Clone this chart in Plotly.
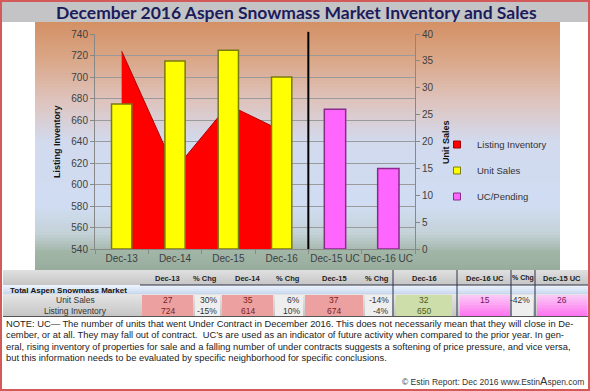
import plotly.graph_objects as go

# ---------------- data ----------------
categories = ["Dec-13", "Dec-14", "Dec-15", "Dec-16", "Dec-15 UC", "Dec-16 UC"]
sales_categories = ["Dec-13", "Dec-14", "Dec-15", "Dec-16"]
uc_categories = ["Dec-15 UC", "Dec-16 UC"]
listing_inventory = [724, 614, 674, 650]
unit_sales = [27, 35, 37, 32]
uc_pending = [26, 15]
sales_pct_chg = ["30%", "6%", "-14%"]
inventory_pct_chg = ["-15%", "10%", "-4%"]
uc_pct_chg = "-42%"
table_headers = ["Dec-13", "% Chg", "Dec-14", "% Chg", "Dec-15", "% Chg", "Dec-16",
                 "Dec-16 UC", "% Chg", "Dec-15 UC"]
left_ticks = list(range(540, 741, 20))
right_ticks = list(range(0, 41, 5))

W, H = 590, 391
L, R, T, B = 95, 415, 34, 249


def px(x):
    return (x - L) / (R - L)


def py(y):
    return (B - y) / (B - T)


shapes = []
annotations = []


def rect(x0, y0, x1, y1, fill, layer="above", line=None, lw=0):
    shapes.append(dict(type="rect", xref="paper", yref="paper",
                       x0=px(x0), x1=px(x1), y0=py(y1), y1=py(y0),
                       fillcolor=fill, layer=layer,
                       line=dict(width=lw, color=line or "rgba(0,0,0,0)")))


def hline(x0, x1, y, color, w=1, layer="above"):
    shapes.append(dict(type="line", xref="paper", yref="paper", x0=px(x0), x1=px(x1),
                       y0=py(y), y1=py(y), line=dict(color=color, width=w), layer=layer))


def vline(x, y0, y1, color, w=1, layer="above"):
    shapes.append(dict(type="line", xref="paper", yref="paper", x0=px(x), x1=px(x),
                       y0=py(y0), y1=py(y1), line=dict(color=color, width=w), layer=layer))


def text(x, y, s, size=9, color="#333333", bold=False, xanchor="center",
         family="Liberation Sans", angle=0):
    annotations.append(dict(xref="paper", yref="paper", x=px(x), y=py(y),
                            text=("<b>%s</b>" % s) if bold else s, showarrow=False,
                            xanchor=xanchor, yanchor="middle", textangle=angle,
                            font=dict(size=size, color=color, family=family)))


def lerp(c1, c2, t):
    return tuple(int(round(a + (b - a) * t)) for a, b in zip(c1, c2))


def gradient(x0, x1, stops, n_per=1, layer="below"):
    for (ya, ca), (yb, cb) in zip(stops[:-1], stops[1:]):
        y = ya
        while y < yb:
            t = (y - ya) / max(yb - ya, 1)
            c = lerp(ca, cb, t)
            rect(x0, y, x1, min(y + n_per + 0.6, yb + 0.3), "rgb(%d,%d,%d)" % c, layer=layer)
            y += n_per


# ---------------- background panel ----------------
rect(2, 1, 588, 22, "rgb(196,196,198)", layer="below")
gradient(35, 560, [
    (22, (212, 145, 102)),
    (60, (218, 168, 138)),
    (100, (222, 196, 190)),
    (140, (210, 218, 238)),
    (205, (208, 220, 242)),
    (232, (196, 210, 216)),
    (250, (162, 182, 168)),
    (270, (152, 172, 158)),
], n_per=3)

# title
text(296, 12, "December 2016 Aspen Snowmass Market Inventory and Sales", size=17.5,
     color="#1c1c5c", bold=True, family="Lato")

# axis titles
text(57, 142, "Listing Inventory", size=9, color="#111111", bold=True, angle=-90)
text(446, 142, "Unit Sales", size=9, color="#111111", bold=True, angle=-90)

# ---------------- table ----------------
TX0, TX1 = 3, 588
gradient(TX0, TX1, [(270, (222, 222, 222)), (285, (196, 196, 196))], n_per=2, layer="above")
gradient(TX0, TX1, [(285, (235, 242, 252)), (294, (196, 212, 236))], n_per=2, layer="above")
gradient(TX0, TX1, [(294, (228, 228, 228)), (316, (196, 196, 196))], n_per=2, layer="above")

cell_x = [(142, 193), (195, 220), (222, 273), (275, 303), (305, 363), (365, 392),
          (396, 452), (460, 510), (512, 533), (537, 587)]
cell_fill = ["rgb(236,160,160)", "rgb(238,238,238)", "rgb(236,160,160)", "rgb(238,238,238)",
             "rgb(236,160,160)", "rgb(238,238,238)", "rgb(206,222,170)", None,
             "rgb(238,238,238)", None]
for (x0, x1), f in zip(cell_x, cell_fill):
    if f:
        rect(x0, 295, x1, 316, f)
    else:
        gradient(x0, x1, [(295, (250, 200, 246)), (316, (255, 110, 240))], n_per=2, layer="above")

hline(140, 588, 285, "#333344", 1)
for xv in [393, 457, 511, 535]:
    vline(xv, 270, 316, "#2a3350", 1)
hline(TX0, TX1, 316.5, "#555555", 1)

for i, ((x0, x1), h) in enumerate(zip(cell_x, table_headers)):
    if i == 8:
        text((x0 + x1) / 2, 278, h, size=7, color="#222222", bold=True)
    elif "%" in h:
        text(x1 - 1, 278, h, size=7.5, color="#222222", bold=True, xanchor="right")
    else:
        text((x0 + x1) / 2, 278, h, size=7.5, color="#222222", bold=True)

text(8, 290, "Total Aspen Snowmass Market", size=8, color="#111111", bold=True, xanchor="left")
text(75, 300, "Unit Sales", size=8.5, color="#333333")
text(75, 311, "Listing Inventory", size=8.5, color="#333333")

val_color = "#7a2020"
sales_cells = [unit_sales[0], sales_pct_chg[0], unit_sales[1], sales_pct_chg[1], unit_sales[2],
               sales_pct_chg[2], unit_sales[3], uc_pending[1], uc_pct_chg, uc_pending[0]]
inv_cells = [listing_inventory[0], inventory_pct_chg[0], listing_inventory[1], inventory_pct_chg[1],
             listing_inventory[2], inventory_pct_chg[2], listing_inventory[3]]
for row_y, cells in ((300, sales_cells), (311, inv_cells)):
    for i, v in enumerate(cells):
        x0, x1 = cell_x[i]
        s = str(v)
        if "%" in s:
            text(x1 - 1, row_y, s, size=8.5, color="#333333", xanchor="right")
        else:
            col = "#4a5a20" if i == 6 else ("#7a1060" if i in (7, 9) else val_color)
            text((x0 + x1) / 2, row_y, s, size=8.5, color=col)

# ---------------- note ----------------
note_lines = [
    "NOTE: UC\u2014 The number of units that went Under Contract in December 2016. This does not necessarily mean that they will close in De-",
    "cember, or at all. They may fall out of contract.  UC\u2019s are used as an indicator of future activity when compared to the prior year. In gen-",
    "eral, rising inventory of properties for sale and a falling number of under contracts suggests a softening of price pressure, and vice versa,",
    "but this information needs to be evaluated by specific neighborhood for specific conclusions.",
]
for i, ln in enumerate(note_lines):
    text(4, 324 + i * 11.3, ln, size=9.35, color="#222222", xanchor="left")
text(586, 381, "\u00a9 Estin Report: Dec 2016 www.Estin<span style='font-size:11px'>A</span>spen.com",
     size=8.5, color="#333333", xanchor="right")

# outer border
shapes.append(dict(type="rect", xref="paper", yref="paper", x0=px(1), x1=px(589),
                   y0=py(390), y1=py(1), line=dict(color="#d45a5a", width=2),
                   fillcolor="rgba(0,0,0,0)", layer="above"))

# separator between sales and UC categories
shapes.append(dict(type="line", xref="x", yref="paper", x0=3.5, x1=3.5, y0=0, y1=1.01,
                   line=dict(color="black", width=2), layer="above"))

# ---------------- traces ----------------
fig = go.Figure()
fig.add_trace(go.Scatter(
    x=sales_categories, y=listing_inventory, name="Listing Inventory",
    mode="lines", fill="tozeroy", fillcolor="#ff0000",
    line=dict(color="#b00000", width=1), yaxis="y", showlegend=False))
fig.add_trace(go.Bar(
    x=sales_categories, y=unit_sales, name="Unit Sales", yaxis="y2", width=0.38,
    marker=dict(color="#ffff00", line=dict(color="#7a7a10", width=1.5)), showlegend=False))
fig.add_trace(go.Bar(
    x=uc_categories, y=uc_pending, name="UC/Pending", yaxis="y2", width=0.4,
    marker=dict(color="#ff66ff", line=dict(color="#8a2a8a", width=1.5)), showlegend=False))

# compact legend entries (small square keys like the original)
legend_keys = [("Listing Inventory", "#ff0000", "#a00000"),
               ("Unit Sales", "#ffff00", "#7a7a10"),
               ("UC/Pending", "#ff66ff", "#8a2a8a")]
for i, (nm, c, lc) in enumerate(legend_keys):
    fig.add_trace(go.Scatter(
        x=[None], y=[None], name=nm, mode="markers", yaxis="y2",
        marker=dict(symbol="square", size=7, color=c, line=dict(color=lc, width=1)),
        legendgroup=str(i), showlegend=True))

fig.update_layout(
    width=W, height=H,
    margin=dict(l=L, r=W - R, t=T, b=H - B, pad=0, autoexpand=False),
    paper_bgcolor="white", plot_bgcolor="rgba(0,0,0,0)",
    barmode="overlay",
    showlegend=True,
    legend=dict(x=px(437), y=py(130), xanchor="left", yanchor="top",
                bgcolor="rgba(0,0,0,0)", font=dict(size=9.5, color="#333333", family="Liberation Sans"),
                tracegroupgap=7, itemwidth=30),
    xaxis=dict(type="category", categoryorder="array", categoryarray=categories,
               range=[-0.5, 5.5], tickson="boundaries", ticks="outside", ticklen=4,
               tickangle=0, automargin=False,
               tickcolor="#888888", showline=True, linecolor="#888888", showgrid=False,
               tickfont=dict(size=10, color="#404040", family="Liberation Sans")),
    yaxis=dict(range=[540, 740], tickvals=left_ticks, ticks="outside", ticklen=4,
               automargin=False,
               tickcolor="#888888", showline=True, linecolor="#888888",
               showgrid=True, gridcolor="#9a9a9a", gridwidth=1, zeroline=False,
               tickfont=dict(size=10, color="#404040", family="Liberation Sans")),
    yaxis2=dict(range=[0, 40], tickvals=right_ticks, overlaying="y", side="right",
                ticks="outside", ticklen=4, tickcolor="#888888", showline=True,
                automargin=False,
                linecolor="#888888", showgrid=False, zeroline=False,
                tickfont=dict(size=10, color="#404040", family="Liberation Sans")),
    shapes=shapes, annotations=annotations,
)

fig.write_html("out.html", config={"displayModeBar": False},
               post_script="document.body.style.margin='0';document.body.style.overflow='hidden';")
